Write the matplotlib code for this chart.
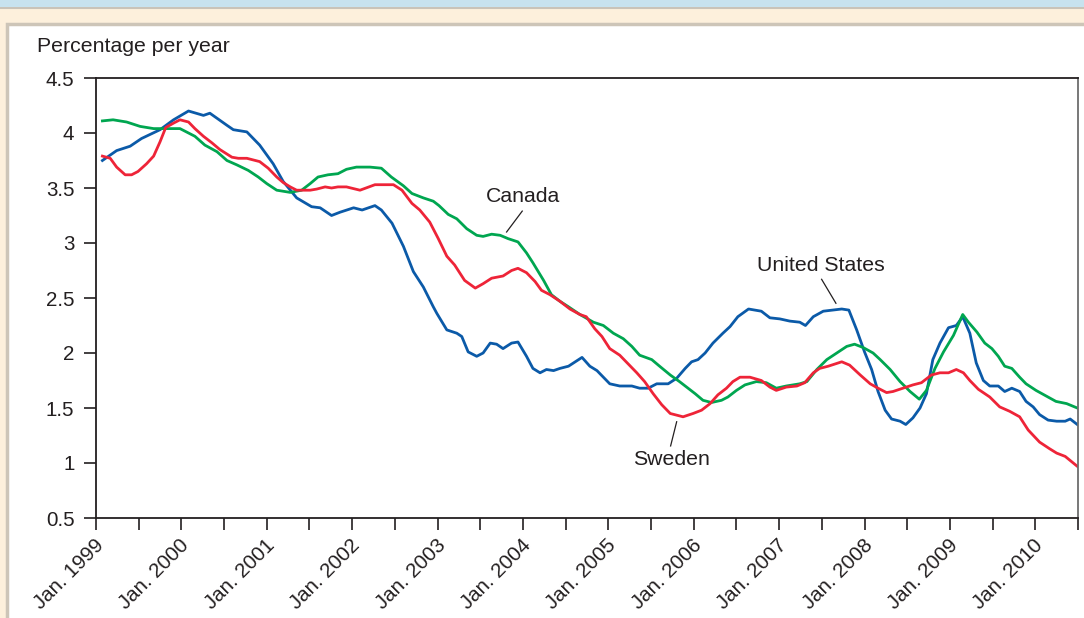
import numpy as np
import matplotlib.pyplot as plt
from matplotlib.patches import Rectangle
from matplotlib.lines import Line2D
from matplotlib.transforms import ScaledTranslation

plt.rcParams['font.family'] = ['Liberation Sans', 'DejaVu Sans']

# Months since Jan. 1999 and values (percentage per year)
us_months = [0.9, 2.9, 4.8, 6.4, 9.0, 10.9, 13.0, 15.1, 16.0, 18.4, 19.3, 21.2, 23.0, 24.9,
             26.3, 28.2, 30.3, 31.5, 33.1, 34.3, 36.2, 37.4, 39.2, 40.1, 41.6, 43.2, 44.6,
             46.0, 47.4, 47.9, 49.3, 50.7, 51.4, 52.3, 53.5, 54.4, 55.4, 56.3, 57.2, 58.4,
             59.3, 60.5, 61.4, 62.4, 63.3, 64.3, 65.2, 66.4, 68.3, 69.4, 70.4, 71.3, 72.2,
             73.6, 75.3, 76.4, 77.6, 78.8, 80.4, 81.6, 82.8, 83.7, 84.6, 85.6, 86.7, 88.1,
             89.1, 90.2, 91.7, 93.5, 94.7, 96.1, 97.5, 98.9, 99.7, 100.8, 102.2, 104.8, 105.8,
             106.9, 108.0, 109.0, 109.9, 110.9, 111.8, 113.0, 113.8, 114.8, 115.8, 116.7,
             117.6, 118.6, 119.8, 120.9, 121.8, 122.8, 123.7, 124.7, 125.6, 126.8, 127.7,
             128.7, 129.8, 130.7, 131.7, 132.6, 133.8, 135.0, 136.2, 136.9, 137.9]
us_values = [3.75, 3.84, 3.88, 3.95, 4.03, 4.12, 4.20, 4.16, 4.18, 4.07, 4.03, 4.01, 3.89, 3.72,
             3.56, 3.41, 3.33, 3.32, 3.25, 3.28, 3.32, 3.30, 3.34, 3.30, 3.18, 2.97, 2.74,
             2.60, 2.42, 2.36, 2.21, 2.18, 2.15, 2.01, 1.97, 2.00, 2.09, 2.08, 2.04, 2.09,
             2.10, 1.97, 1.86, 1.82, 1.85, 1.84, 1.86, 1.88, 1.96, 1.88, 1.84, 1.78, 1.72,
             1.70, 1.70, 1.68, 1.68, 1.72, 1.72, 1.77, 1.86, 1.92, 1.94, 2.00, 2.09, 2.18,
             2.24, 2.33, 2.40, 2.38, 2.32, 2.31, 2.29, 2.28, 2.25, 2.33, 2.38, 2.40, 2.39,
             2.21, 2.01, 1.85, 1.65, 1.48, 1.40, 1.38, 1.35, 1.41, 1.50, 1.63,
             1.94, 2.09, 2.23, 2.25, 2.33, 2.18, 1.91, 1.75, 1.70, 1.70, 1.65,
             1.68, 1.65, 1.56, 1.51, 1.44, 1.39, 1.38, 1.38, 1.40, 1.35]

sweden_months = [0.9, 2.0, 2.9, 4.1, 5.0, 5.9, 7.1, 8.1, 9.0, 9.8, 10.9, 11.8, 13.0, 13.9, 15.1,
                 16.3, 17.4, 19.1, 20.0, 21.2, 23.0, 24.2, 25.4, 26.3, 27.3, 28.2, 30.1, 31.0,
                 32.2, 33.1, 34.0, 35.2, 37.1, 39.2, 41.8, 43.0, 44.4, 45.5, 46.9, 48.1, 49.3,
                 50.4, 51.8, 53.3, 54.4, 55.6, 57.2, 58.4, 59.3, 60.5, 61.7, 62.6, 63.8, 65.2,
                 66.6, 68.0, 68.9, 70.1, 71.1, 72.2, 73.6, 74.8, 76.0, 77.1, 78.3, 79.5, 80.7,
                 82.5, 83.9, 85.1, 86.3, 87.4, 88.6, 89.5, 90.5, 91.9, 93.5, 94.7, 95.6, 97.0,
                 98.5, 99.6, 100.8, 101.7, 102.9, 104.8, 105.9, 107.4, 108.8, 109.9, 111.1,
                 112.0, 113.4, 114.8, 116.0, 117.4, 118.6, 119.8, 120.9, 121.9, 122.8, 124.0,
                 125.6, 127.0, 128.4, 129.8, 131.0, 132.6, 134.0, 135.0, 136.2, 137.9]
sweden_values = [3.79, 3.77, 3.69, 3.62, 3.62, 3.65, 3.72, 3.79, 3.92, 4.05, 4.09, 4.12, 4.10, 4.04, 3.97,
                 3.91, 3.85, 3.78, 3.77, 3.77, 3.74, 3.68, 3.60, 3.55, 3.51, 3.48, 3.48, 3.49,
                 3.51, 3.50, 3.51, 3.51, 3.48, 3.53, 3.53, 3.48, 3.36, 3.30, 3.19, 3.04, 2.88,
                 2.80, 2.66, 2.59, 2.63, 2.68, 2.70, 2.75, 2.77, 2.73, 2.65, 2.57, 2.53, 2.47,
                 2.40, 2.35, 2.33, 2.22, 2.15, 2.04, 1.98, 1.90, 1.82, 1.74, 1.63, 1.53, 1.45,
                 1.42, 1.45, 1.48, 1.54, 1.62, 1.68, 1.74, 1.78, 1.78, 1.75, 1.69, 1.66, 1.69,
                 1.70, 1.73, 1.82, 1.86, 1.88, 1.92, 1.89, 1.80, 1.72, 1.68, 1.64,
                 1.65, 1.68, 1.71, 1.73, 1.80, 1.82, 1.82, 1.85, 1.82, 1.75, 1.67,
                 1.60, 1.51, 1.47, 1.42, 1.30, 1.19, 1.13, 1.09, 1.06, 0.97]

canada_months = [0.9, 2.4, 4.3, 6.2, 8.1, 9.9, 11.8, 12.7, 13.9, 15.3, 17.0, 18.4, 19.8, 21.4,
                 22.8, 24.0, 25.4, 27.3, 28.9, 30.1, 31.2, 32.6, 34.0, 35.2, 36.6, 38.5, 40.1,
                 41.5, 43.2, 44.4, 46.0, 47.4, 48.2, 49.5, 50.7, 52.1, 53.5, 54.4, 55.6, 56.8,
                 57.9, 59.3, 60.5, 61.4, 62.9, 64.0, 65.2, 66.4, 68.0, 69.9, 71.3, 72.7, 74.1,
                 75.3, 76.4, 78.1, 79.2, 80.7, 82.0, 83.0, 84.2, 85.3, 86.5, 87.9, 88.8, 90.0,
                 91.2, 92.8, 94.2, 95.6, 97.0, 98.9, 99.9, 101.3, 102.7, 104.1, 105.5, 106.6,
                 107.8, 109.2, 110.2, 111.6, 113.0, 114.4, 115.7, 116.7, 117.9, 119.1, 120.5,
                 121.8, 122.6, 123.8, 124.9, 125.9, 126.8, 127.7, 128.7, 129.8, 130.7, 132.1,
                 133.5, 134.9, 136.4, 137.9]
canada_values = [4.11, 4.12, 4.10, 4.06, 4.04, 4.04, 4.04, 4.01, 3.97, 3.89, 3.83, 3.75, 3.71, 3.66,
                 3.60, 3.54, 3.48, 3.46, 3.48, 3.54, 3.60, 3.62, 3.63, 3.67, 3.69, 3.69, 3.68,
                 3.60, 3.52, 3.45, 3.41, 3.38, 3.34, 3.26, 3.22, 3.13, 3.07, 3.06, 3.08, 3.07,
                 3.04, 3.01, 2.91, 2.82, 2.66, 2.53, 2.47, 2.42, 2.35, 2.28, 2.25, 2.18, 2.13,
                 2.06, 1.98, 1.94, 1.88, 1.80, 1.74, 1.69, 1.63, 1.57, 1.55, 1.57, 1.60, 1.66,
                 1.71, 1.74, 1.73, 1.68, 1.70, 1.72, 1.74, 1.85, 1.94, 2.00, 2.06, 2.08,
                 2.05, 2.00, 1.94, 1.85, 1.74, 1.65, 1.58, 1.66, 1.86, 2.01, 2.16,
                 2.35, 2.28, 2.19, 2.09, 2.04, 1.97, 1.88, 1.86, 1.78, 1.72, 1.66,
                 1.61, 1.56, 1.54, 1.50]

years = list(range(1999, 2011))
tick_months = list(range(0, 139, 6))

W, H = 1084, 618
fig = plt.figure(figsize=(W / 100, H / 100), dpi=100)
fig.patch.set_facecolor('#fdf0dc')

# frame decorations, kept behind the axes
fig.patches.append(Rectangle((0, 1 - 7 / H), 1, 7 / H, transform=fig.transFigure,
                             facecolor='#c7e2ee', edgecolor='none', zorder=-3))
fig.lines.append(Line2D([0, 1], [1 - 7.5 / H, 1 - 7.5 / H], transform=fig.transFigure,
                        color='#c9c3b8', lw=1.5, zorder=-3))
fig.patches.append(Rectangle((7 / W, -0.02), 1.0, (H - 24) / H + 0.02, transform=fig.transFigure,
                             facecolor='white', edgecolor='#cdc5b8', lw=2.5, zorder=-2))

ax = fig.add_axes([96 / W, 1 - 518 / H, (1078 - 96) / W, (518 - 78) / H])
ax.set_facecolor('none')

ax.plot(us_months, us_values, color='#0b5aa8', lw=2.0, solid_joinstyle='round')
ax.plot(canada_months, canada_values, color='#00a650', lw=2.0, solid_joinstyle='round')
ax.plot(sweden_months, sweden_values, color='#ee2438', lw=2.0, solid_joinstyle='round')

ax.set_xlim(0, 138)
ax.set_ylim(0.5, 4.5)

ax.set_yticks(np.arange(0.5, 4.51, 0.5))
ax.set_yticklabels(['0.5', '1', '1.5', '2', '2.5', '3', '3.5', '4', '4.5'])
ax.set_xticks(tick_months)
xlabels = []
for m in tick_months:
    xlabels.append('Jan. %d' % years[m // 12] if m % 12 == 0 else '')
ax.set_xticklabels(xlabels, rotation=45, ha='right', va='center', rotation_mode='anchor')

ax.tick_params(axis='both', direction='out', length=8.5, width=1.2, color='#231f20',
               labelsize=14.8, labelcolor='#231f20')
ax.tick_params(axis='y', pad=7)
ax.tick_params(axis='x', pad=9)

# nudge the slanted labels a little to the right
shift = ScaledTranslation(5 / 100, 0, fig.dpi_scale_trans)
for lab in ax.get_xticklabels():
    lab.set_transform(lab.get_transform() + shift)

for side in ['left', 'bottom', 'top']:
    ax.spines[side].set_color('#231f20')
    ax.spines[side].set_linewidth(1.3)
ax.spines['right'].set_color('#6d6d6d')
ax.spines['right'].set_linewidth(1.3)

fig.text(37 / W, 1 - 47 / H, 'Percentage per year', fontsize=15.3, color='#231f20',
         ha='left', va='center')

# labels with leader lines
ax.plot([57.7, 59.9], [3.10, 3.29], color='#231f20', lw=0.9)
ax.text(60.0, 3.42, 'Canada', fontsize=15.3, color='#231f20', ha='center', va='center')
ax.plot([81.6, 80.75], [1.375, 1.155], color='#231f20', lw=0.9)
ax.text(80.9, 1.036, 'Sweden', fontsize=15.3, color='#231f20', ha='center', va='center')
ax.plot([101.97, 103.98], [2.67, 2.452], color='#231f20', lw=0.9)
ax.text(101.9, 2.795, 'United States', fontsize=15.3, color='#231f20', ha='center', va='center')

fig.savefig('out.png', dpi=100, facecolor=fig.get_facecolor())
